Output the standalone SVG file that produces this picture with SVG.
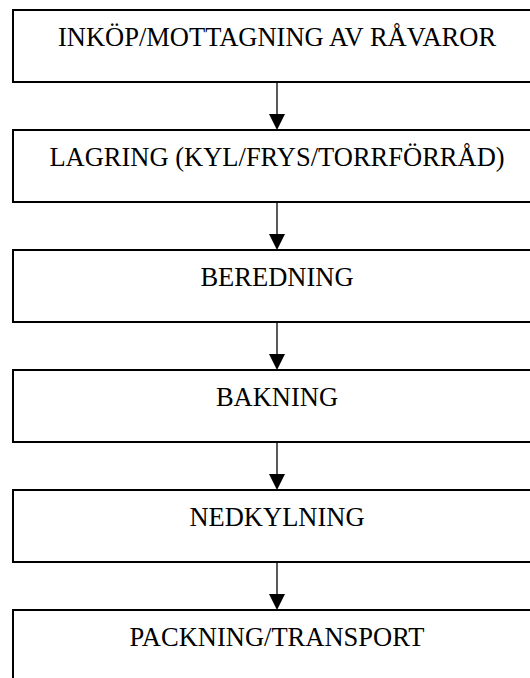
<svg xmlns="http://www.w3.org/2000/svg" width="530" height="678" viewBox="0 0 530 678">
  <style>
    .box { fill: #ffffff; stroke: #000000; stroke-width: 2; }
    .label { font-family: "Liberation Serif", "Times New Roman", serif; font-size: 26.5px; fill: #000000; text-anchor: middle; }
    .link { stroke: #000000; stroke-width: 1.3; fill: none; }
    .head { fill: #000000; stroke: none; }
  </style>
  <rect x="0" y="0" width="530" height="678" fill="#ffffff"/>

  <!-- process steps -->
  <g id="inkop">
    <rect class="box" x="13" y="10" width="528" height="72"/>
    <text class="label" x="277" y="46">INKÖP/MOTTAGNING AV RÅVAROR</text>
  </g>
  <g id="lagring">
    <rect class="box" x="13" y="130" width="528" height="72"/>
    <text class="label" x="277" y="166">LAGRING (KYL/FRYS/TORRFÖRRÅD)</text>
  </g>
  <g id="beredning">
    <rect class="box" x="13" y="250" width="528" height="72"/>
    <text class="label" x="277" y="286">BEREDNING</text>
  </g>
  <g id="bakning">
    <rect class="box" x="13" y="370" width="528" height="72"/>
    <text class="label" x="277" y="406">BAKNING</text>
  </g>
  <g id="nedkylning">
    <rect class="box" x="13" y="490" width="528" height="72"/>
    <text class="label" x="277" y="526">NEDKYLNING</text>
  </g>
  <g id="packning">
    <rect class="box" x="13" y="610" width="528" height="72"/>
    <text class="label" x="277" y="646">PACKNING/TRANSPORT</text>
  </g>

  <!-- flow arrows -->
  <g id="connectors">
    <line class="link" x1="277" y1="82" x2="277" y2="115"/>
    <polygon class="head" points="269,114 285,114 277,130"/>
    <line class="link" x1="277" y1="202" x2="277" y2="235"/>
    <polygon class="head" points="269,234 285,234 277,250"/>
    <line class="link" x1="277" y1="322" x2="277" y2="355"/>
    <polygon class="head" points="269,354 285,354 277,370"/>
    <line class="link" x1="277" y1="442" x2="277" y2="475"/>
    <polygon class="head" points="269,474 285,474 277,490"/>
    <line class="link" x1="277" y1="562" x2="277" y2="595"/>
    <polygon class="head" points="269,594 285,594 277,610"/>
  </g>
</svg>
